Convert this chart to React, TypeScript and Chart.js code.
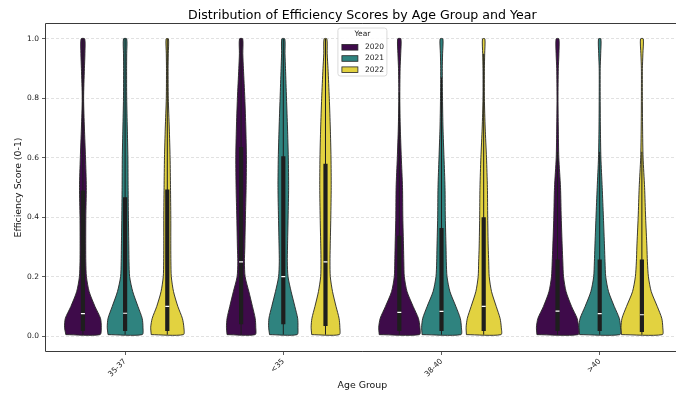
import React, { useEffect, useRef } from 'react';
import { Chart, registerables } from 'chart.js';

Chart.register(...registerables);

const TITLE = 'Distribution of Efficiency Scores by Age Group and Year';
const X_TITLE = 'Age Group';
const Y_TITLE = 'Efficiency Score (0-1)';
const LEGEND_TITLE = 'Year';

const AGE_GROUPS = ['35-37', '<35', '38-40', '>40'];
const YEARS = ['2020', '2021', '2022'];
const YEAR_COLORS = ['#3e0b4a', '#2f837f', '#e2d240'];
const Y_TICKS = [0, 0.2, 0.4, 0.6, 0.8, 1.0];

// score levels at which the violin density (relative width) was read
const DENSITY_LEVELS = [0.005, 0.03, 0.06, 0.1, 0.15, 0.2, 0.25, 0.3, 0.4, 0.5, 0.6, 0.7, 0.8, 0.9, 0.95, 1.0];

// relative densities per year (2020, 2021, 2022)
const DENSITY_35_37 = [
  [17, 18.3, 17.5, 12, 6.2, 3.5, 2.9, 2.8, 2.9, 3.4, 2.6, 1.5, 0.7, 1.5, 2.0, 1.8],
  [17, 17.8, 17, 12.8, 7.6, 4.5, 3.9, 3.7, 3.3, 3.0, 2.8, 2.2, 1.6, 1.5, 1.6, 1.6],
  [16, 16.5, 15, 10.5, 6.2, 4.0, 3.6, 3.5, 3.5, 3.2, 2.8, 2.0, 1.0, 0.8, 1.0, 1.2],
];
const DENSITY_UNDER_35 = [
  [14, 14.6, 14, 11.3, 7.7, 4.0, 3.3, 3.7, 4.3, 5.0, 5.3, 4.7, 3.7, 2.3, 1.7, 1.6],
  [13.7, 14.6, 14.3, 11.5, 7.8, 4.7, 4.0, 4.2, 4.8, 5.3, 5.0, 4.2, 3.2, 2.2, 1.7, 1.5],
  [13.7, 14.3, 13.5, 10.5, 7.0, 4.8, 4.5, 4.7, 5.3, 5.7, 5.5, 4.8, 3.8, 2.5, 1.7, 1.4],
];
const DENSITY_38_40 = [
  [20, 20.5, 19, 13.8, 7.7, 5.0, 4.5, 4.2, 3.5, 3.2, 2.0, 1.0, 0.5, 0.8, 1.4, 1.6],
  [19.3, 19.8, 18.7, 14.3, 8.4, 5.5, 4.8, 4.5, 3.8, 3.5, 2.5, 1.5, 1.0, 0.8, 1.1, 1.4],
  [17.2, 17.5, 16.3, 12.5, 7.8, 5.5, 5.0, 4.5, 4.0, 3.7, 2.8, 1.5, 0.7, 0.7, 1.0, 1.2],
];
const DENSITY_OVER_40 = [
  [20.5, 21, 19.5, 14, 8.5, 6.0, 5.3, 4.7, 3.7, 3.0, 1.3, 0.8, 0.5, 0.8, 1.4, 1.4],
  [20, 20.7, 19.5, 14.5, 8.8, 6.0, 5.3, 4.8, 3.7, 2.5, 1.2, 0.7, 0.5, 0.5, 1.0, 1.2],
  [20.3, 20.8, 19.8, 15.3, 9.3, 6.5, 5.5, 5.0, 3.7, 2.7, 1.2, 0.7, 0.5, 0.5, 1.0, 1.4],
];
const DENSITIES = [DENSITY_35_37, DENSITY_UNDER_35, DENSITY_38_40, DENSITY_OVER_40];

// box statistics per age group, one array per year
const MIN_SCORE = [0.005, 0.005, 0.005, 0.005];
const Q1_2020 = [0.017, 0.04, 0.017, 0.017];
const Q1_2021 = [0.017, 0.04, 0.017, 0.017];
const Q1_2022 = [0.017, 0.034, 0.017, 0.014];
const MEDIAN_2020 = [0.076, 0.25, 0.08, 0.084];
const MEDIAN_2021 = [0.077, 0.2, 0.083, 0.076];
const MEDIAN_2022 = [0.1, 0.25, 0.1, 0.072];
const Q3_2020 = [0.49, 0.636, 0.338, 0.258];
const Q3_2021 = [0.467, 0.605, 0.364, 0.258];
const Q3_2022 = [0.493, 0.58, 0.4, 0.258];
const WHISKER_2020 = [1.0, 1.0, 0.82, 0.62];
const WHISKER_2021 = [1.0, 1.0, 0.87, 0.62];
const WHISKER_2022 = [1.0, 1.0, 0.95, 0.62];

const Q1 = [Q1_2020, Q1_2021, Q1_2022];
const MEDIAN = [MEDIAN_2020, MEDIAN_2021, MEDIAN_2022];
const Q3 = [Q3_2020, Q3_2021, Q3_2022];
const WHISKER = [WHISKER_2020, WHISKER_2021, WHISKER_2022];

const FONT = 'DejaVu Sans';
const HUE_WIDTH = 0.8 / 3;
const DENSITY_TO_X = 0.1333 / 21;
const EDGE = '#262626';
const BOX = '#1e1e1e';

function buildDatasets() {
  const ds: any[] = [];
  AGE_GROUPS.forEach((_, g) => {
    YEARS.forEach((__, h) => {
      const c = g + (h - 1) * HUE_WIDTH;
      const dens = DENSITIES[g][h];
      const left = DENSITY_LEVELS.map((y, i) => ({ x: c - dens[i] * DENSITY_TO_X, y }));
      const right = DENSITY_LEVELS.map((y, i) => ({ x: c + dens[i] * DENSITY_TO_X, y })).reverse();
      ds.push({
        type: 'line',
        data: [...left, ...right, left[0]],
        borderColor: EDGE,
        borderWidth: 0.9,
        backgroundColor: YEAR_COLORS[h],
        fill: 'shape',
        tension: 0.25,
        pointRadius: 0,
        order: 4,
      });
      ds.push({
        type: 'line',
        data: [
          { x: c, y: MIN_SCORE[g] },
          { x: c, y: WHISKER[h][g] },
        ],
        borderColor: BOX,
        borderWidth: 1,
        pointRadius: 0,
        fill: false,
        order: 3,
      });
      ds.push({
        type: 'line',
        data: [
          { x: c, y: Q1[h][g] },
          { x: c, y: Q3[h][g] },
        ],
        borderColor: BOX,
        borderWidth: 4.2,
        borderCapStyle: 'butt',
        pointRadius: 0,
        fill: false,
        order: 2,
      });
      ds.push({
        type: 'line',
        data: [{ x: c, y: MEDIAN[h][g] }],
        showLine: false,
        pointStyle: 'line',
        pointRadius: 2,
        pointBorderColor: '#ffffff',
        pointBorderWidth: 1.2,
        order: 1,
      });
    });
  });
  return ds;
}

const decorPlugin = {
  id: 'decor',
  afterDraw(chart: any) {
    const { ctx, chartArea } = chart;
    const { left, right, top, bottom } = chartArea;
    ctx.save();
    // frame
    ctx.strokeStyle = '#3a3a3a';
    ctx.lineWidth = 1;
    ctx.beginPath();
    ctx.moveTo(right, top - 0.5);
    ctx.lineTo(left - 0.5, top - 0.5);
    ctx.lineTo(left - 0.5, bottom + 0.5);
    ctx.lineTo(right, bottom + 0.5);
    ctx.stroke();
    // title
    ctx.fillStyle = '#000';
    ctx.font = `12.6px "${FONT}"`;
    ctx.textAlign = 'center';
    ctx.textBaseline = 'middle';
    ctx.fillText(TITLE, (left + right) / 2, 15.5);
    // legend
    const w = 49;
    const h = 48;
    const lx = (left + right) / 2 - w / 2;
    const ly = top + 4;
    ctx.beginPath();
    if (ctx.roundRect) ctx.roundRect(lx, ly, w, h, 2.5);
    else ctx.rect(lx, ly, w, h);
    ctx.fillStyle = 'rgba(255,255,255,0.85)';
    ctx.fill();
    ctx.strokeStyle = '#d0d0d0';
    ctx.lineWidth = 0.8;
    ctx.stroke();
    ctx.fillStyle = '#222';
    ctx.font = `7.5px "${FONT}"`;
    ctx.textAlign = 'center';
    ctx.fillText(LEGEND_TITLE, lx + w / 2, ly + 5.8);
    YEARS.forEach((yr, i) => {
      const ry = ly + 19.3 + i * 11.2;
      ctx.fillStyle = YEAR_COLORS[i];
      ctx.fillRect(lx + 4, ry - 2.8, 16, 5.6);
      ctx.strokeStyle = EDGE;
      ctx.lineWidth = 0.8;
      ctx.strokeRect(lx + 4, ry - 2.8, 16, 5.6);
      ctx.fillStyle = '#222';
      ctx.textAlign = 'left';
      ctx.fillText(yr, lx + 27, ry);
    });
    ctx.restore();
  },
};

export default function App() {
  const ref = useRef<HTMLCanvasElement>(null);
  useEffect(() => {
    if (!ref.current) return;
    const chart = new Chart(ref.current, {
      type: 'line',
      data: { datasets: buildDatasets() },
      options: {
        animation: false,
        responsive: false,
        devicePixelRatio: 1,
        events: [],
        layout: { padding: { top: 24, right: 4, left: 0, bottom: 0 } },
        plugins: { legend: { display: false }, tooltip: { enabled: false }, title: { display: false } },
        scales: {
          x: {
            type: 'linear',
            min: -0.5,
            max: 3.5,
            afterBuildTicks: (s: any) => {
              s.ticks = AGE_GROUPS.map((_, i) => ({ value: i }));
            },
            afterFit: (s: any) => {
              s.height = 45;
            },
            ticks: {
              callback: (v: any) => AGE_GROUPS[v],
              minRotation: 45,
              maxRotation: 45,
              autoSkip: false,
              padding: 2,
              color: '#222',
              font: { family: FONT, size: 7.5 },
            },
            grid: { drawOnChartArea: false, drawTicks: true, tickLength: 4, tickColor: '#333', tickWidth: 0.8 },
            border: { display: false },
            title: {
              display: true,
              text: X_TITLE,
              color: '#111',
              font: { family: FONT, size: 9.4 },
              padding: { top: 0, bottom: 5 },
            },
          },
          y: {
            type: 'linear',
            min: -0.05,
            max: 1.05,
            afterBuildTicks: (s: any) => {
              s.ticks = Y_TICKS.map((v) => ({ value: v }));
            },
            afterFit: (s: any) => {
              s.width = 46;
            },
            ticks: {
              callback: (v: any) => Number(v).toFixed(1),
              padding: 3,
              color: '#222',
              font: { family: FONT, size: 7.5 },
            },
            grid: {
              color: 'rgba(0,0,0,0.17)',
              lineWidth: 0.7,
              tickColor: '#333',
              tickLength: 4,
              tickWidth: 0.8,
              tickBorderDash: [],
            },
            border: { display: false, dash: [3, 2] },
            title: {
              display: true,
              text: Y_TITLE,
              color: '#111',
              font: { family: FONT, size: 9.4 },
              padding: { top: 13.4, bottom: 0 },
            },
          },
        },
      } as any,
      plugins: [decorPlugin],
    });
    return () => chart.destroy();
  }, []);
  return (
    <div style={{ position: 'fixed', left: 0, top: 0, width: 676, height: 396, overflow: 'hidden', background: '#fff' }}>
      <canvas ref={ref} width={684} height={396} style={{ display: 'block', width: 684, height: 396 }} />
    </div>
  );
}
